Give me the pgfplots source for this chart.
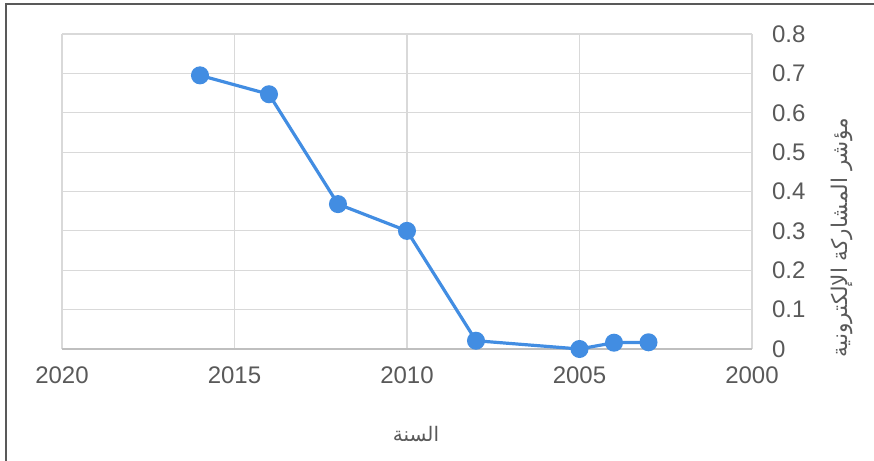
\documentclass[border=0pt]{standalone}
\usepackage{fontspec}
\setmainfont{Liberation Sans}
\newfontfamily\arabicfont[Script=Arabic]{DejaVu Sans}
\TeXXeTstate=1
\usepackage{pgfplots}
\pgfplotsset{compat=1.18}
\definecolor{tickgray}{RGB}{89,89,89}
\definecolor{gridgray}{RGB}{217,217,217}
\definecolor{axisgray}{RGB}{191,191,191}
\definecolor{lineblue}{RGB}{66,141,226}
\begin{document}
\begin{tikzpicture}[x=1pt,y=1pt]
\useasboundingbox (0,0) rectangle (437,230.5);
\draw[tickgray, line width=1pt] (3,0) -- (3,228.5) -- (437,228.5);
\begin{axis}[
  at={(31pt,56pt)}, anchor=south west, scale only axis,
  width=345pt, height=157.5pt,
  x dir=reverse, xmin=2000, xmax=2020, ymin=0, ymax=0.8,
  xtick={2000,2005,2010,2015,2020},
  ytick={0,0.1,0.2,0.3,0.4,0.5,0.6,0.7,0.8},
  yticklabel pos=right,
  axis line style={draw=none}, major tick length=0pt,
  grid=major, major grid style={gridgray, line width=0.6pt},
  /pgf/number format/assume math mode=true,
  tick label style={font=\fontsize{12}{13}\selectfont, text=tickgray},
  xticklabel style={/pgf/number format/set thousands separator={}, anchor=north, yshift=-5.5pt},
  yticklabel style={/pgf/number format/fixed, /pgf/number format/precision=1, anchor=west, xshift=6.5pt},
  clip=false,
]
\draw[axisgray, line width=0.8pt] (axis cs:2000,0) -- (axis cs:2020,0);
\addplot[lineblue, line width=1.6pt, mark=*, mark size=3.7pt, mark options={fill=lineblue, draw=lineblue, solid}] coordinates {
  (2016,0.695) (2014,0.647) (2012,0.368) (2010,0.300) (2008,0.021) (2005,0.000) (2004,0.016) (2003,0.017)
};
\end{axis}
\node[rotate=90, text=tickgray, font=\fontsize{10.8}{12}\selectfont] at (421,111.5) {\arabicfont\beginR مؤشر المشاركة الإلكترونية\endR};
\node[text=tickgray, font=\fontsize{10}{12}\selectfont] at (208,13.5) {\arabicfont\beginR السنة\endR};
\end{tikzpicture}
\end{document}
